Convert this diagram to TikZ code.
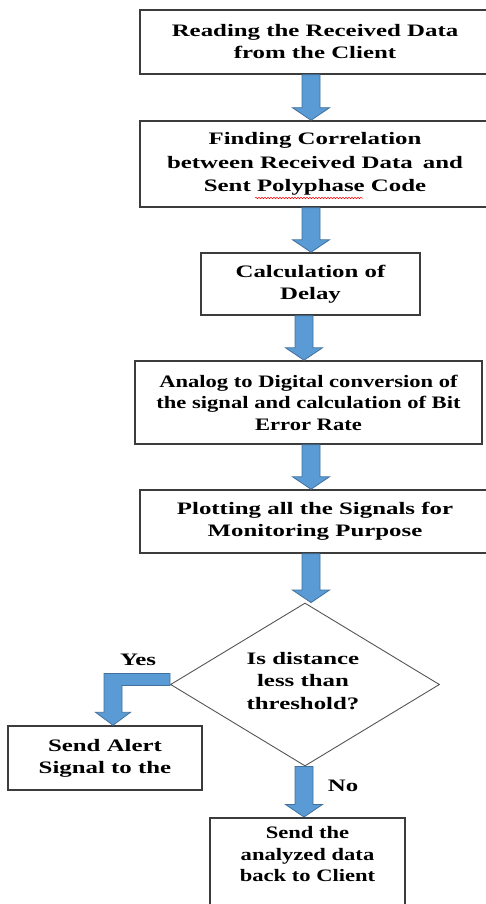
\documentclass[tikz,border=0pt]{standalone}
\usepackage{fontspec}
\setmainfont{Liberation Serif}[FakeStretch=1.42]
\newfontfamily\narrowserif{Liberation Serif}[FakeStretch=1.29]
\usetikzlibrary{shapes.geometric,calc,decorations.pathmorphing}

\definecolor{arrowfill}{HTML}{5B9BD5}
\definecolor{arrowedge}{HTML}{41719C}
\definecolor{boxedge}{HTML}{3C3C3C}
\definecolor{diaedge}{HTML}{555555}

% vertical block arrow from #1 down to the tip at #2
\newcommand\blockdown[2]{%
  \draw[blockarrow] let \p1=(#1), \p2=(#2) in
    (\x1-9pt,\y1) -- (\x1-9pt,\y2+12.5pt) -- (\x1-18.5pt,\y2+12.5pt) --
    (\x1,\y2) -- (\x1+18.5pt,\y2+12.5pt) -- (\x1+9pt,\y2+12.5pt) --
    (\x1+9pt,\y1) -- cycle;}

\begin{document}
\begin{tikzpicture}[x=1pt,y=-1pt,
  every node/.style={font=\bfseries\fontsize{17.5}{22}\selectfont,
    align=center, inner sep=0pt, text=black},
  procbox/.style={draw=boxedge, line width=1.5pt, fill=white},
  narrowtext/.style={font=\narrowserif\bfseries\fontsize{17.5}{21.5}\selectfont},
  loosetext/.style={font=\bfseries\fontsize{17.5}{23.5}\selectfont},
  decision/.style={diamond, draw=diaedge, line width=0.9pt,
    minimum width=269pt, minimum height=163pt, aspect=1.65},
  blockarrow/.style={fill=arrowfill, draw=arrowedge, line width=0.8pt,
    line join=miter},
  tag/.style={font=\bfseries\fontsize{17.5}{22.5}\selectfont}
]
\useasboundingbox (0,0) rectangle (485,904);

% arrow columns
\coordinate (mid) at (311,0);
\coordinate (midb) at (304,0);
\coordinate (yescol) at (113,0);

% process boxes
\node[procbox, minimum width=350pt, minimum height=64pt] (b1) at (315,42)
  {Reading the Received Data\\from the Client};
\node[procbox, loosetext, minimum width=350pt, minimum height=86pt] (b2) at (315,164)
  {Finding Correlation\\between Received Data\kern4pt{} and\\Sent Polyphase Code};
\node[procbox, minimum width=219pt, minimum height=62pt] (b3) at (310.5,284)
  {Calculation of\\Delay};
\node[procbox, narrowtext, minimum width=347pt, minimum height=83pt] (b4) at (308.5,402.5)
  {Analog to Digital conversion of\\the signal and calculation of Bit\\Error Rate};
\node[procbox, minimum width=350pt, minimum height=63pt] (b5) at (315,521.5)
  {Plotting all the Signals for\\Monitoring Purpose};

% decision
\node[decision] (dec) at (305,684.5) {};
\node[tag] (dectext) at (303,681) {Is distance\\less than\\threshold?};

% outcomes
\node[procbox, minimum width=194pt, minimum height=64pt] (alert) at (105,758)
  {Send Alert\\Signal to the};
\node[procbox, narrowtext, anchor=north, minimum width=195pt, inner ysep=9pt] (fin) at (307.5,817)
  {Send the\\analyzed data\\back to Client\\[4pt]~};

% spell-check squiggle under "Polyphase"
\draw[red, line width=0.5pt, decorate,
  decoration={snake, amplitude=0.7pt, segment length=3pt}] (255,198) -- (363,198);

% block arrows
\blockdown{b1.south -| mid}{b2.north -| mid}
\blockdown{b2.south -| mid}{b3.north -| mid}
\blockdown{b3.south -| midb}{b4.north -| midb}
\blockdown{b4.south -| mid}{b5.north -| mid}
\blockdown{b5.south -| mid}{dec.north -| mid}
\blockdown{dec.south -| midb}{fin.north -| midb}

% bent "Yes" arrow
\draw[blockarrow] let \p1=(dec.west), \p2=(alert.north -| yescol) in
  (\x1,\y1+11pt) -- (\x2-9pt,\y1+11pt) -- (\x2-9pt,\y2+13pt) --
  (\x2-17.5pt,\y2+13pt) -- (\x2,\y2) -- (\x2+17.5pt,\y2+13pt) --
  (\x2+9pt,\y2+13pt) -- (\x2+9pt,\y1-1pt) -- (\x1,\y1-1pt) -- cycle;

% branch labels
\node[tag] (yes) at (138,660) {Yes};
\node[tag] (no) at (343,786) {No};
\end{tikzpicture}
\end{document}
